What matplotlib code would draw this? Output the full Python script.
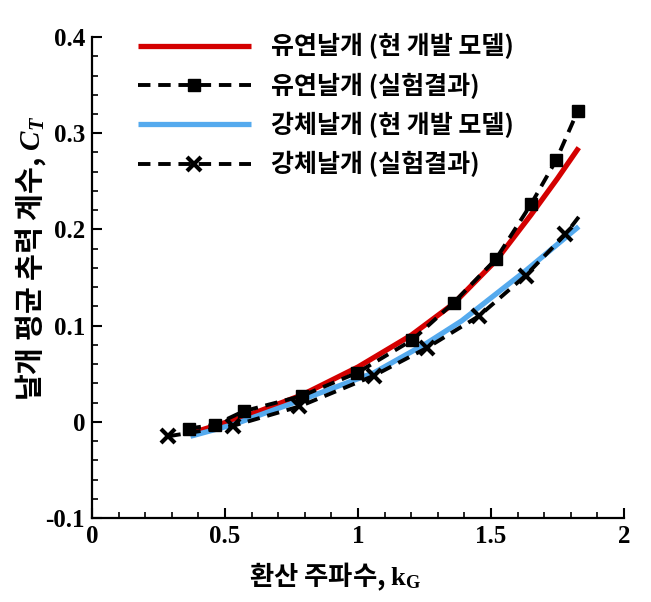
import matplotlib
matplotlib.use("Agg")
import matplotlib.pyplot as plt
from matplotlib.ticker import MultipleLocator, FuncFormatter

plt.rcParams['font.family'] = ['Noto Sans CJK KR', 'DejaVu Sans']
plt.rcParams['font.weight'] = 'bold'
plt.rcParams['mathtext.fontset'] = 'custom'
plt.rcParams['mathtext.rm'] = 'Liberation Serif:bold'
plt.rcParams['mathtext.it'] = 'Liberation Serif:italic:bold'
plt.rcParams['mathtext.bf'] = 'Liberation Serif:bold'

# 유연날개 (현 개발 모델)
flex_model_k = [0.37, 0.58, 0.79, 1.0, 1.2, 1.36, 1.52, 1.65, 1.75, 1.83]
flex_model_ct = [-0.012, 0.006, 0.028, 0.057, 0.09, 0.123, 0.168, 0.215, 0.253, 0.285]

# 강체날개 (현 개발 모델)
rigid_model_k = [0.37, 0.53, 0.78, 1.06, 1.26, 1.39, 1.63, 1.83]
rigid_model_ct = [-0.015, -0.003, 0.022, 0.051, 0.082, 0.105, 0.157, 0.203]

# 유연날개 (실험결과)
flex_exp_k = [0.363, 0.463, 0.57, 0.79, 0.997, 1.204, 1.36, 1.518, 1.65, 1.745, 1.826]
flex_exp_ct = [-0.007, -0.003, 0.011, 0.027, 0.051, 0.085, 0.124, 0.169, 0.226, 0.272, 0.323]

# 강체날개 (실험결과) - last point is the end of the dashed curve (no marker)
rigid_exp_k = [0.287, 0.532, 0.78, 1.06, 1.26, 1.455, 1.63, 1.78, 1.83]
rigid_exp_ct = [-0.015, -0.004, 0.016, 0.048, 0.077, 0.11, 0.152, 0.195, 0.213]

labels = ['유연날개 (현 개발 모델)', '유연날개 (실험결과)',
          '강체날개 (현 개발 모델)', '강체날개 (실험결과)']

fig = plt.figure(figsize=(6.51, 6.02), dpi=100)
ax = fig.add_axes([0.1413, 0.1395, 0.8172, 0.799])

l1, = ax.plot(flex_model_k, flex_model_ct, color='#d40000', lw=3.8, label=labels[0],
              solid_capstyle='butt')
l3, = ax.plot(rigid_model_k, rigid_model_ct, color='#55aaee', lw=3.8, label=labels[2],
              solid_capstyle='butt')
l2, = ax.plot(flex_exp_k, flex_exp_ct, color='black', lw=2.8, dashes=(3.2, 2.0),
              marker='s', ms=9, label=labels[1])
l4, = ax.plot(rigid_exp_k, rigid_exp_ct, color='black', lw=2.8, dashes=(3.2, 2.0),
              marker='x', ms=10, mew=3, markevery=list(range(len(rigid_exp_k) - 1)),
              label=labels[3])

ax.set_xlim(0, 2)
ax.set_ylim(-0.1, 0.4)
ax.spines['top'].set_visible(False)
ax.spines['right'].set_visible(False)
for s in ['left', 'bottom']:
    ax.spines[s].set_linewidth(1.6)

ax.xaxis.set_major_locator(MultipleLocator(0.5))
ax.xaxis.set_minor_locator(MultipleLocator(0.1))
ax.yaxis.set_major_locator(MultipleLocator(0.1))
ax.yaxis.set_minor_locator(MultipleLocator(0.02))
fmt = FuncFormatter(lambda v, p: '%g' % round(v, 3))
ax.xaxis.set_major_formatter(fmt)
ax.yaxis.set_major_formatter(fmt)
ax.tick_params(which='major', direction='in', length=7, width=1.5, pad=5)
ax.tick_params(which='minor', direction='in', length=4, width=1.2)
for t in ax.get_xticklabels() + ax.get_yticklabels():
    t.set_fontfamily('Liberation Serif')
    t.set_fontweight('bold')
    t.set_fontsize(18)

ax.set_xlabel('환산 주파수, $\\mathrm{k}_{\\mathrm{G}}$', fontsize=19, fontweight='bold')
ax.xaxis.set_label_coords(0.457, -0.088)
ax.set_ylabel('날개 평균 추력 계수, $C_T$', fontsize=21, fontweight='bold')
ax.yaxis.set_label_coords(-0.082, 0.54)

leg = ax.legend(handles=[l1, l2, l3, l4], loc='upper left',
                bbox_to_anchor=(0.0865, 1.008), frameon=False, fontsize=18,
                numpoints=1, handlelength=4.5, handletextpad=0.8,
                labelspacing=0.53, borderpad=0, borderaxespad=0)
for t in leg.get_texts():
    t.set_fontweight('bold')

fig.savefig('out.png', dpi=100)
